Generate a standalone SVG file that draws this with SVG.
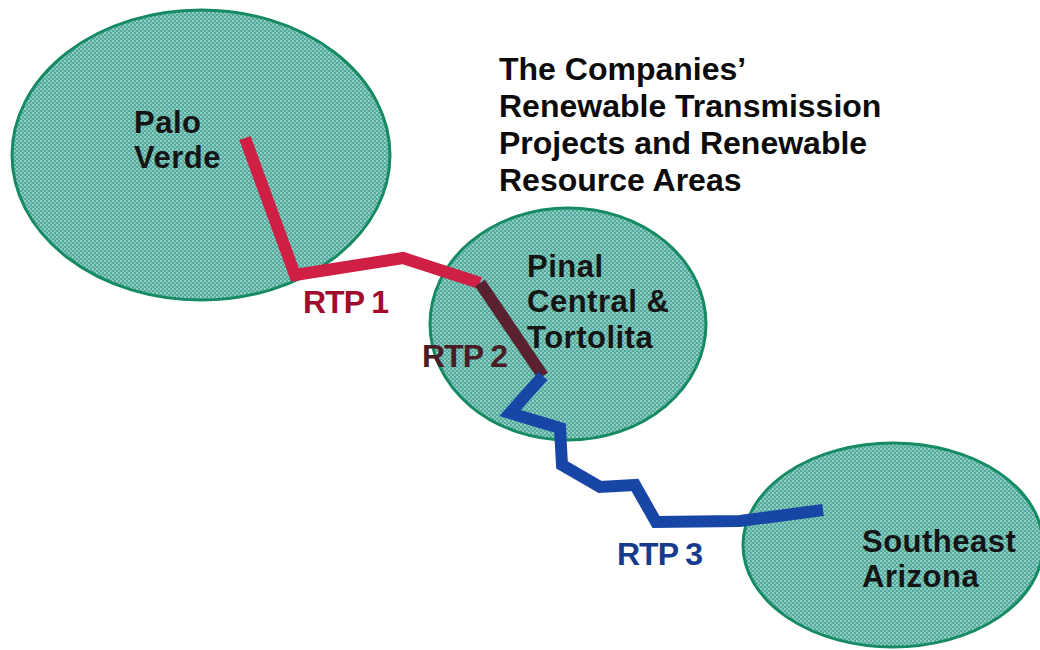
<svg xmlns="http://www.w3.org/2000/svg" width="1040" height="650" viewBox="0 0 1040 650">
  <defs>
    <!-- stippled teal fill for the resource areas -->
    <pattern id="stipple" width="4" height="4" patternUnits="userSpaceOnUse">
      <rect width="4" height="4" fill="#52a99c"/>
      <circle cx="1" cy="1" r="0.9" fill="#b2e2d9"/>
      <circle cx="3" cy="3" r="0.9" fill="#95d3c8"/>
    </pattern>
    <style>
      .area { fill: url(#stipple); stroke: #168a62; stroke-width: 3; }
      .name { font-family: "Liberation Sans", Arial, sans-serif; font-weight: bold; font-size: 31px; letter-spacing: 0.5px; fill: #151515; }
      .title { font-family: "Liberation Sans", Arial, sans-serif; font-weight: bold; font-size: 32px; fill: #0c0c0c; }
      .line { fill: none; stroke-width: 12; stroke-linejoin: miter; stroke-linecap: butt; }
      .rtp { font-family: "Liberation Sans", Arial, sans-serif; font-weight: bold; font-size: 32px; letter-spacing: -1px; }
    </style>
  </defs>

  <rect width="1040" height="650" fill="#ffffff"/>

  <!-- title -->
  <g id="title" class="title">
    <text x="499" y="80">The Companies’</text>
    <text x="499" y="117">Renewable Transmission</text>
    <text x="499" y="154">Projects and Renewable</text>
    <text x="499" y="191">Resource Areas</text>
  </g>

  <!-- resource areas -->
  <g id="palo-verde">
    <ellipse class="area" cx="201" cy="155" rx="189" ry="145"/>
  </g>
  <g id="pinal-central-tortolita">
    <ellipse class="area" cx="568" cy="324" rx="138" ry="116"/>
  </g>
  <g id="southeast-arizona">
    <ellipse class="area" cx="893" cy="545" rx="150" ry="102"/>
  </g>

  <!-- transmission projects -->
  <g id="connectors">
    <polyline id="rtp1-line" class="line" stroke="#cf1f45" points="245,138 295,275 403,258 480,283"/>
    <polyline id="rtp2-line" class="line" stroke="#5a2230" points="480,283 543,376"/>
    <polyline id="rtp3-line" class="line" stroke="#1746a6" points="543,376 510,413 560,428 562,465 600,487 635,485 656,522 740,521 823,510"/>
  </g>

  <!-- area names -->
  <g id="palo-verde-label" class="name">
    <text x="134" y="133">Palo</text>
    <text x="134" y="168">Verde</text>
  </g>
  <g id="pinal-label" class="name">
    <text x="527" y="277">Pinal</text>
    <text x="527" y="312">Central &amp;</text>
    <text x="527" y="348">Tortolita</text>
  </g>
  <g id="southeast-label" class="name">
    <text x="862" y="552">Southeast</text>
    <text x="862" y="587">Arizona</text>
  </g>

  <!-- project labels -->
  <g id="rtp-labels" class="rtp">
    <text x="303" y="313" fill="#a10c2c">RTP 1</text>
    <text x="422" y="367" fill="#4a1c26">RTP 2</text>
    <text x="617" y="565" fill="#173b8c">RTP 3</text>
  </g>
</svg>
